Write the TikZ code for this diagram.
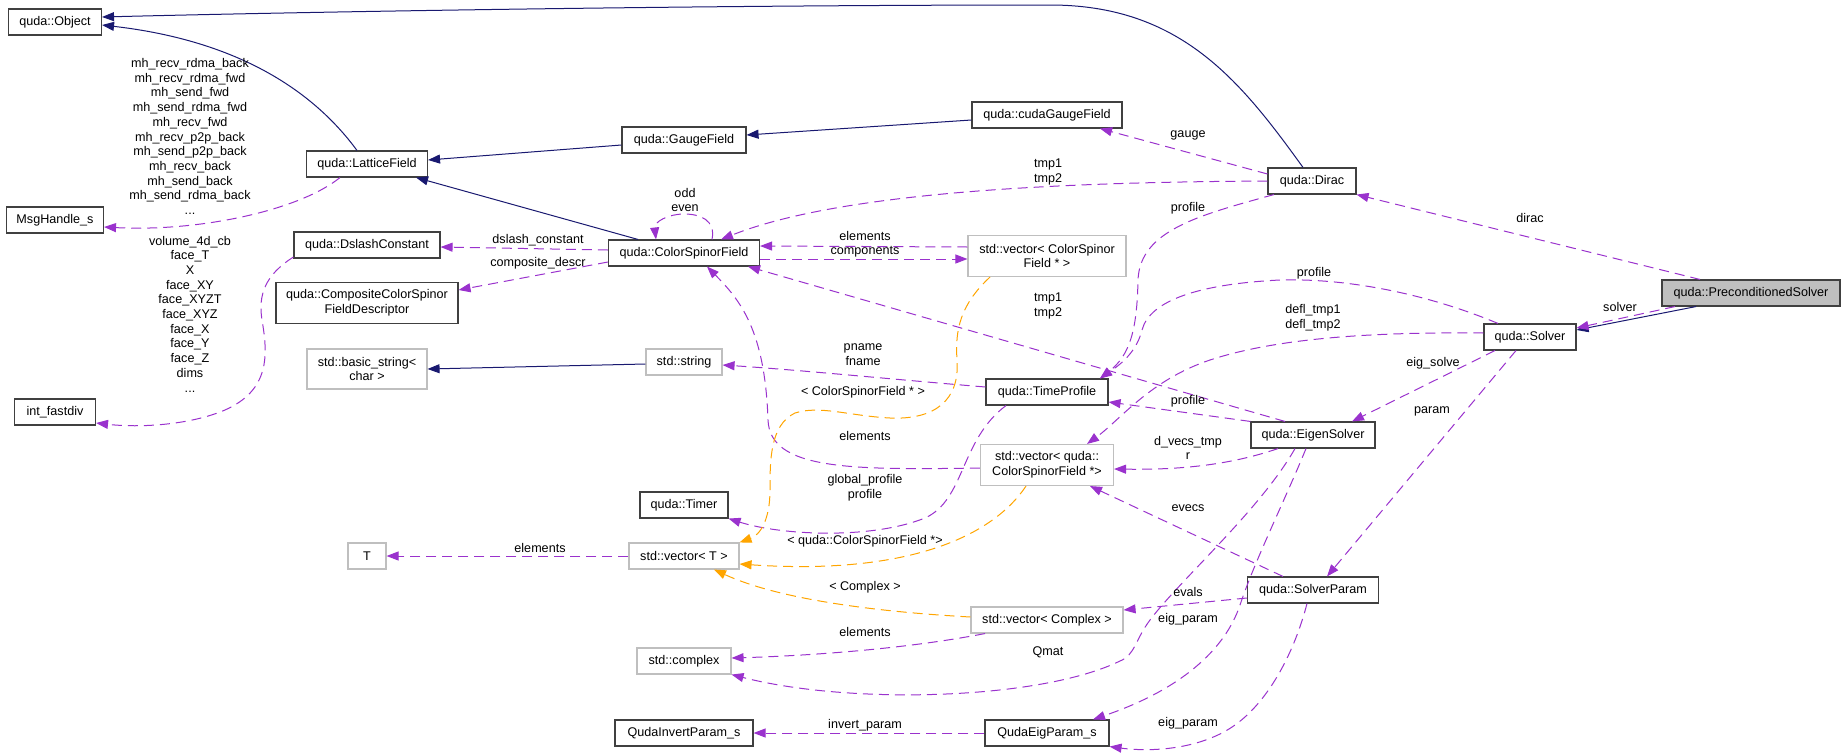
\documentclass[tikz,border=0pt]{standalone}
\usepackage{fontspec}
\setmainfont{Liberation Sans}
\usetikzlibrary{arrows.meta,positioning}
\definecolor{edgeblue}{RGB}{25,25,112}
\definecolor{edgepurple}{RGB}{154,50,205}
\definecolor{edgeorange}{RGB}{255,165,0}
\definecolor{boxgray}{RGB}{191,191,191}
\tikzstyle{classblock} = [draw=black!75, line width=1.1pt, fill=white, text centered, align=center, inner sep=0pt]
\tikzstyle{stdblock} = [classblock, draw=boxgray]
\tikzstyle{mainblock} = [classblock, fill=boxgray]
\tikzstyle{inherit} = [draw, line width=1pt, color=edgeblue, -{Triangle[length=12pt,width=9pt]}]
\tikzstyle{usage} = [draw, line width=1pt, color=edgepurple, dash pattern=on 10pt off 6pt, -{Triangle[length=12pt,width=9pt]}]
\tikzstyle{tmpl} = [usage, color=edgeorange]
\tikzstyle{edgelabel} = [align=center, inner sep=0pt]
\newcommand{\classblock}[4]{node (#1) [classblock, minimum width=#2pt, minimum height=#3pt] {#4}}
\newcommand{\stdblock}[4]{node (#1) [stdblock, minimum width=#2pt, minimum height=#3pt] {#4}}
\newcommand{\edgelabel}[2]{node (#1) [edgelabel] {#2}}
\begin{document}
\begin{tikzpicture}[x=1pt,y=-1pt,font=\fontsize{12.6}{14.7}\selectfont]
\useasboundingbox (0,0) rectangle (1845,755);

\path (55,22) \classblock{obj}{93}{26}{quda::Object};
\path (obj)+(0,198) \classblock{msg}{97}{26}{MsgHandle\_s};
\path (obj)+(0,390) \classblock{fastdiv}{81}{26}{int\_fastdiv};
\path (367,164) \classblock{lattice}{121}{26}{quda::LatticeField};
\path (lattice)+(0,81) \classblock{dslash}{146}{26}{quda::DslashConstant};
\path (lattice)+(0,139) \classblock{compdesc}{182}{41}{quda::CompositeColorSpinor\\FieldDescriptor};
\path (lattice)+(0,205) \stdblock{basicstr}{120}{40}{std::basic\_string<\\char >};
\path (lattice)+(0,392) \stdblock{tnode}{38}{26}{T};
\path (684,140) \classblock{gauge}{124}{26}{quda::GaugeField};
\path (gauge)+(0,113) \classblock{csf}{151}{26}{quda::ColorSpinorField};
\path (gauge)+(0,222) \stdblock{str}{76}{26}{std::string};
\path (gauge)+(0,365) \classblock{timer}{88}{26}{quda::Timer};
\path (gauge)+(0,416) \stdblock{vect}{110}{26}{std::vector< T >};
\path (gauge)+(0,521) \stdblock{cplx}{94}{26}{std::complex};
\path (gauge)+(0,593) \classblock{invparam}{138}{26}{QudaInvertParam\_s};
\path (1047,115) \classblock{cudagauge}{150}{26}{quda::cudaGaugeField};
\path (cudagauge)+(0,141) \stdblock{veccsf}{158}{41}{std::vector< ColorSpinor\\Field * >};
\path (cudagauge)+(0,277) \classblock{timeprof}{122}{26}{quda::TimeProfile};
\path (cudagauge)+(0,350) \stdblock{vecqcsf}{133}{41}{std::vector< quda::\\ColorSpinorField *>};
\path (cudagauge)+(0,505) \stdblock{veccplx}{152}{26}{std::vector< Complex >};
\path (cudagauge)+(0,618) \classblock{eigparam}{124}{26}{QudaEigParam\_s};
\path (1312,181) \classblock{dirac}{88}{26}{quda::Dirac};
\path (dirac)+(1,254) \classblock{eigsolver}{124}{26}{quda::EigenSolver};
\path (dirac)+(1,409) \classblock{solverparam}{131}{26}{quda::SolverParam};
\path (1530,337) \classblock{solver}{92}{26}{quda::Solver};
\path (1751,293) node (precond) [mainblock, minimum width=178pt, minimum height=26pt] {quda::PreconditionedSolver};

\path [inherit] ([xshift=-10pt]lattice.north) .. controls (320,100) and (250,42) .. ([yshift=-3pt]obj.east);
\path [inherit] ([xshift=-9pt]dirac.north) .. controls (1240,80) and (1180,5) .. (1050,5) .. controls (700,5) and (300,12) .. ([yshift=5pt]obj.east);
\path [inherit] ([yshift=-5pt]gauge.west) -- ([yshift=4pt]lattice.east);
\path [inherit] ([yshift=-5pt]cudagauge.west) -- ([yshift=5pt]gauge.east);
\path [inherit] ([xshift=-46pt]csf.north) -- ([xshift=-12pt]lattice.south east);
\path [inherit] ([yshift=-2pt]str.west) -- (basicstr.east);
\path [inherit] ([xshift=-55pt]precond.south) -- ([yshift=7pt]solver.east);

\path [usage] ([xshift=-27pt]lattice.south) .. controls (300,210) and (200,232) .. ([yshift=-7pt]msg.east);
\path [usage] ([yshift=-12pt]dslash.west) .. controls (265,275) and (258,295) .. (262,320) .. controls (268,355) and (270,390) .. (225,410) .. controls (190,425) and (140,428) .. ([yshift=-11pt]fastdiv.east);
\path [usage] ([yshift=3pt]csf.west) -- ([yshift=-2pt]dslash.east);
\path [usage] ([yshift=-9pt]csf.west) -- ([yshift=13pt]compdesc.east);
\path [usage] ([xshift=28pt]csf.north) .. controls (716,220) and (700,214) .. (684,214) .. controls (668,214) and (654,222) .. ([xshift=-28pt]csf.north);
\path [usage] (dirac.west) .. controls (1100,182) and (850,188) .. ([xshift=37pt]csf.north);
\path [usage] ([yshift=7pt]dirac.west) -- ([xshift=53pt]cudagauge.south);
\path [usage] ([xshift=-38pt]dirac.south) .. controls (1200,215) and (1140,230) .. (1138,280) .. controls (1137,330) and (1130,355) .. ([xshift=53pt]timeprof.north);
\path [usage] ([xshift=-32pt]solver.north) .. controls (1430,295) and (1350,278) .. (1280,280) .. controls (1200,284) and (1150,300) .. (1142,330) .. controls (1136,355) and (1115,368) .. ([xshift=53pt]timeprof.north);
\path [usage] ([yshift=4pt]solver.west) .. controls (1380,332) and (1280,337) .. (1210,360) .. controls (1150,380) and (1120,420) .. ([xshift=40pt]vecqcsf.north);
\path [usage] ([xshift=-35pt]solver.south) -- ([xshift=39pt]eigsolver.north);
\path [usage] ([xshift=-14pt]solver.south) -- ([xshift=14pt]solverparam.north);
\path [usage] ([xshift=-51pt]precond.north) -- (dirac.south east);
\path [usage] ([xshift=-76pt]precond.south) -- ([yshift=9pt]solver.east);
\path [usage] ([xshift=-28pt]eigsolver.north) -- ([xshift=-12pt]csf.south east);
\path [usage] (eigsolver.north west) -- ([yshift=-10pt]timeprof.east);
\path [usage] ([xshift=-35pt]eigsolver.south) .. controls (1230,465) and (1180,470) .. ([yshift=-4pt]vecqcsf.east);
\path [usage] ([xshift=-18pt]eigsolver.south) .. controls (1260,510) and (1180,580) .. (1150,620) .. controls (1135,640) and (1135,655) .. (1120,661) .. controls (1040,700) and (850,705) .. (cplx.south east);
\path [usage] ([xshift=-7pt]eigsolver.south) .. controls (1285,500) and (1255,560) .. (1240,605) .. controls (1225,650) and (1180,690) .. ([xshift=46pt]eigparam.north);
\path [usage] ([xshift=-6pt]solverparam.south) .. controls (1295,650) and (1270,700) .. (1235,725) .. controls (1200,750) and (1150,752) .. (eigparam.south east);
\path [usage] ([xshift=-30pt]solverparam.north) -- ([xshift=43pt]vecqcsf.south);
\path [usage] ([yshift=-8pt]solverparam.west) -- ([yshift=10pt]veccplx.east);
\path [usage] ([yshift=9pt]veccsf.west) -- ([yshift=7pt]csf.east);
\path [usage] ([yshift=-6pt]csf.east) -- ([yshift=-3pt]veccsf.west);
\path [usage] ([yshift=5pt]timeprof.west) .. controls (900,380) and (800,370) .. ([yshift=-3pt]str.east);
\path [usage] ([xshift=-41pt]timeprof.south) .. controls (960,440) and (965,500) .. (925,518) .. controls (870,540) and (780,535) .. (timer.south east);
\path [usage] ([yshift=-3pt]vecqcsf.west) .. controls (850,470) and (770,470) .. (768,420) .. controls (765,330) and (740,300) .. ([xshift=23pt]csf.south);
\path [usage] (vect.west) -- (tnode.east);
\path [usage] ([xshift=-62pt]veccplx.south) .. controls (900,650) and (800,656) .. ([yshift=3pt]cplx.east);
\path [usage] (eigparam.west) -- (invparam.east);

\path [tmpl] ([xshift=-57pt]veccsf.south) .. controls (960,305) and (955,330) .. (957,360) .. controls (960,400) and (935,420) .. (890,418) .. controls (850,416) and (820,405) .. (795,413) .. controls (770,425) and (770,460) .. (770,490) .. controls (770,520) and (760,535) .. (vect.north east);
\path [tmpl] ([xshift=-21pt]vecqcsf.south) .. controls (990,540) and (900,575) .. ([yshift=-8pt]vect.east);
\path [tmpl] ([yshift=3pt]veccplx.west) .. controls (880,612) and (780,600) .. ([xshift=30pt]vect.south);

\path (190,136.5) \edgelabel{lbmsg}{mh\_recv\_rdma\_back\\mh\_recv\_rdma\_fwd\\mh\_send\_fwd\\mh\_send\_rdma\_fwd\\mh\_recv\_fwd\\mh\_recv\_p2p\_back\\mh\_send\_p2p\_back\\mh\_recv\_back\\mh\_send\_back\\mh\_send\_rdma\_back\\...};
\path (190,314) \edgelabel{lbfastdiv}{volume\_4d\_cb\\face\_T\\X\\face\_XY\\face\_XYZT\\face\_XYZ\\face\_X\\face\_Y\\face\_Z\\dims\\...};
\path (538,240) \edgelabel{lbdslash}{dslash\_constant};
\path (538,263) \edgelabel{lbcomp}{composite\_descr};
\path (685,200) \edgelabel{lbloop}{odd\\even};
\path (1048,172) \edgelabel{lbdiractmp}{tmp1\\tmp2};
\path (1188,135) \edgelabel{lbgauge}{gauge};
\path (1188,208) \edgelabel{lbdiracprof}{profile};
\path (1314,273) \edgelabel{lbsolverprof}{profile};
\path (1313,318) \edgelabel{lbdefl}{defl\_tmp1\\defl\_tmp2};
\path (1433,363) \edgelabel{lbeigsolve}{eig\_solve};
\path (1432,411) \edgelabel{lbparam}{param};
\path (1530,218) \edgelabel{lbdirac}{dirac};
\path (1620,307) \edgelabel{lbsolver}{solver};
\path (1048,306) \edgelabel{lbeigtmp}{tmp1\\tmp2};
\path (1188,401) \edgelabel{lbeigprof}{profile};
\path (1188,448) \edgelabel{lbdvecs}{d\_vecs\_tmp\\r};
\path (1048,652) \edgelabel{lbqmat}{Qmat};
\path (1188,619) \edgelabel{lbeigparamA}{eig\_param};
\path (1188,723) \edgelabel{lbeigparamB}{eig\_param};
\path (1188,508) \edgelabel{lbevecs}{evecs};
\path (1188,592) \edgelabel{lbevals}{evals};
\path (865,236) \edgelabel{lbelemA}{elements};
\path (865,252) \edgelabel{lbcomps}{components};
\path (863,355) \edgelabel{lbpname}{pname\\fname};
\path (865,488) \edgelabel{lbglobal}{global\_profile\\profile};
\path (865,436) \edgelabel{lbelemB}{elements};
\path (540,548) \edgelabel{lbelemT}{elements};
\path (865,632) \edgelabel{lbelemC}{elements};
\path (865,725) \edgelabel{lbinvert}{invert\_param};
\path (863,392) \edgelabel{lbtmplA}{< ColorSpinorField * >};
\path (865,541) \edgelabel{lbtmplB}{< quda::ColorSpinorField *>};
\path (865,587) \edgelabel{lbtmplC}{< Complex >};
\end{tikzpicture}
\end{document}
